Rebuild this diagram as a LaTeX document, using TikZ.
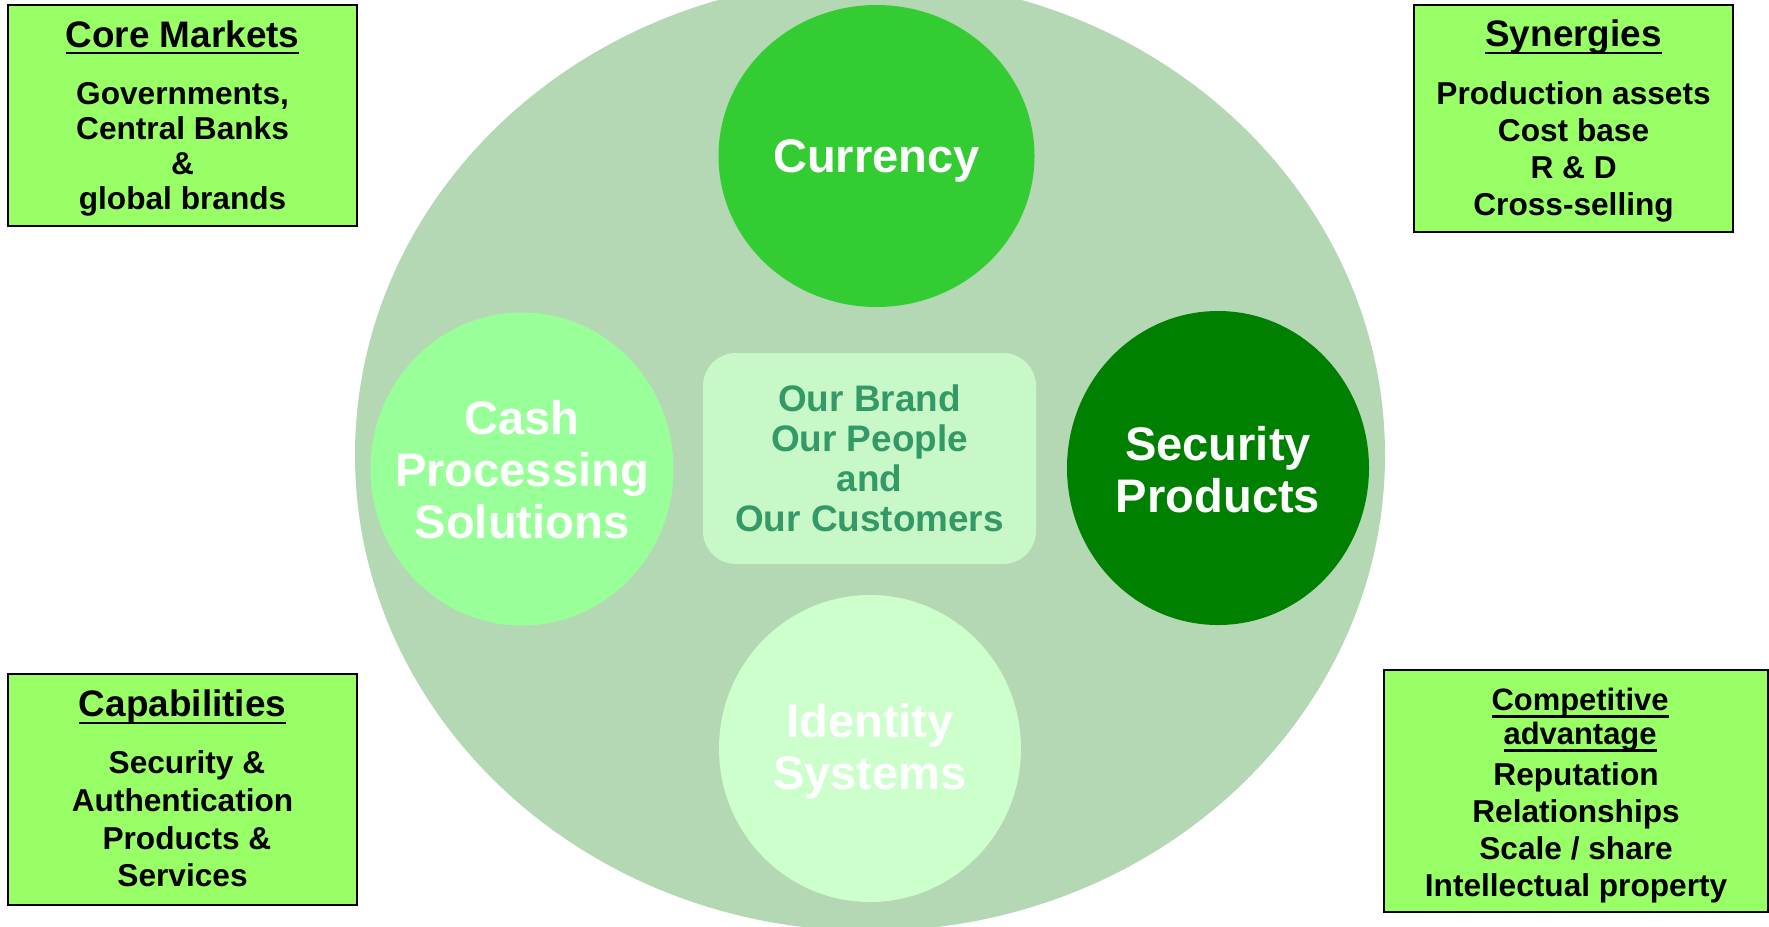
\documentclass[tikz,border=0pt]{standalone}
\usepackage{fontspec}
\setmainfont{Liberation Sans}
\usepackage{tikz}
\usetikzlibrary{shapes.geometric}
\usetikzlibrary{positioning,calc}

\definecolor{discgreen}{HTML}{B4D8B4}
\definecolor{currgreen}{HTML}{33CC33}
\definecolor{cashgreen}{HTML}{99FF99}
\definecolor{secgreen}{HTML}{008000}
\definecolor{idgreen}{HTML}{CCFFCC}
\definecolor{hubgreen}{HTML}{C8F8C8}
\definecolor{hubtext}{HTML}{339966}
\definecolor{boxgreen}{HTML}{99FF66}

% underline at a fixed depth, like the slide does
\newcommand{\ulbox}[1]{\setbox0\hbox{#1}\rlap{\rule[-2.1pt]{\wd0}{0.7pt}}\box0}

\tikzset{cornertext/.style={anchor=north,inner sep=0pt,align=center,font=\bfseries\fontsize{9pt}{#1}\selectfont},
  cornertext/.default=10pt}

\begin{document}
\begin{tikzpicture}
 \coordinate (origo) at (0,0);
 \useasboundingbox (origo) rectangle (17.69,-9.26);
 \clip (origo) rectangle (17.69,-9.26);

\tikzstyle{segment}=[ellipse,inner sep=0pt,draw=none]
\tikzstyle{segtext}=[inner sep=0pt,text=white,align=center,font=\bfseries\fontsize{13.4pt}{14.8pt}\selectfont]
\tikzstyle{corner}=[draw=black,line width=0.6pt,fill=boxgreen,anchor=north west,inner sep=0pt]
\tikzstyle{cornertitle}=[anchor=base,inner sep=0pt,font=\bfseries\fontsize{10.5pt}{12pt}\selectfont]

   %background disc
   \fill[discgreen] (8.70,-4.55) ellipse (5.15 and 4.76);

   %the four businesses
   \node (currency) [segment,fill=currgreen,minimum width=3.16cm,minimum height=3.02cm] at (8.765,-1.56) {};
   \node (cash) [segment,fill=cashgreen,minimum width=3.03cm,minimum height=3.13cm] at (5.22,-4.69) {};
   \node (security) [segment,fill=secgreen,minimum width=3.02cm,minimum height=3.14cm] at (12.18,-4.68) {};
   \node (identity) [segment,fill=idgreen,minimum width=3.02cm,minimum height=3.07cm] at (8.70,-7.485) {};

    \node (currency_label) at (currency.center) [segtext,text depth=0pt] {Currency};
    \node (cash_label) at ($(cash.center)+(0,-0.005)$) [segtext] {Cash\\Processing\\Solutions};
    \node (security_label) at ($(security.center)+(0,-0.015)$) [segtext] {Security\\Products};
    \node (identity_label) at ($(identity.center)+(0,-0.03)$) [segtext] {Identity\\Systems};

   %hub in the middle
   \node (hub) [fill=hubgreen,rounded corners=0.33cm,minimum width=3.33cm,minimum height=2.11cm,inner sep=0pt] at (8.695,-4.585) {};
    \node (hub_label) at (hub.center) [inner sep=0pt,text=hubtext,align=center,font=\bfseries\fontsize{10.5pt}{11.4pt}\selectfont] {Our Brand\\Our People\\and\\Our Customers};

   %corner boxes
   \node (core) [corner,minimum width=3.49cm,minimum height=2.21cm] at (0.07,-0.04) {};
    \node (core_title) [cornertitle] at ($(core.north)+(0,-0.43)$) {\ulbox{Core Markets}};
    \node (core_text) [cornertext=9.9pt] at ($(core.north)+(0,-0.78)$) {Governments,\\Central Banks\\\&\\global brands};

   \node (syn) [corner,minimum width=3.19cm,minimum height=2.27cm] at (14.13,-0.04) {};
    \node (syn_title) [cornertitle] at ($(syn.north)+(0,-0.427)$) {\ulbox{Synergies}};
    \node (syn_text) [cornertext=10.45pt] at ($(syn.north)+(0,-0.772)$) {Production assets\\Cost base\\R \& D\\Cross-selling};

   \node (cap) [corner,minimum width=3.49cm,minimum height=2.31cm] at (0.07,-6.73) {};
    \node (cap_title) [cornertitle] at ($(cap.north)+(0,-0.437)$) {\ulbox{Capabilities}};
    \node (cap_text) [cornertext=10.75pt] at ($(cap.north)+(0,-0.77)$) {\ Security \&\\Authentication\\\ Products \&\\Services};

   \node (comp) [corner,minimum width=3.84cm,minimum height=2.42cm] at (13.83,-6.69) {};
    \node (comp_title) [cornertext=9.6pt,font=\bfseries\fontsize{8.8pt}{9.6pt}\selectfont] at ($(comp.north)+(0.04,-0.184)$) {\ulbox{Competitive}\\\ulbox{advantage}};
    \node (comp_text) [cornertext=10.5pt] at ($(comp.north)+(0,-0.93)$) {Reputation\\Relationships\\Scale / share\\Intellectual property};

\end{tikzpicture}
\end{document}
